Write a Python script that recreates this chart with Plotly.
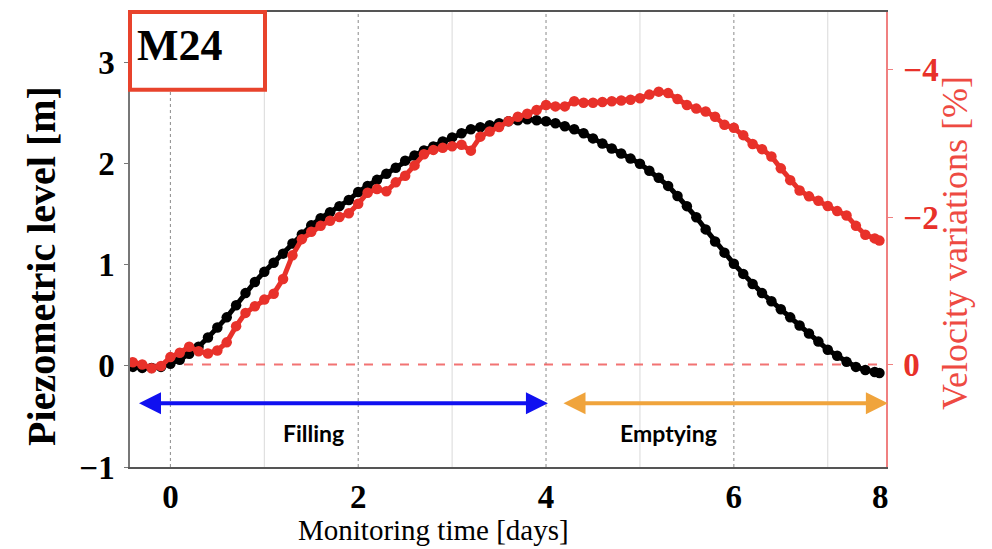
import plotly.graph_objects as go

# ---------------- data ----------------
days = [-0.4, -0.3, -0.2, -0.1, 0.0, 0.1, 0.2, 0.3, 0.4, 0.5,
        0.6, 0.7, 0.8, 0.9, 1.0, 1.1, 1.2, 1.3, 1.4, 1.5,
        1.6, 1.7, 1.8, 1.9, 2.0, 2.1, 2.2, 2.3, 2.4, 2.5,
        2.6, 2.7, 2.8, 2.9, 3.0, 3.1, 3.2, 3.3, 3.4, 3.5,
        3.6, 3.7, 3.8, 3.9, 4.0, 4.1, 4.2, 4.3, 4.4, 4.5,
        4.6, 4.7, 4.8, 4.9, 5.0, 5.1, 5.2, 5.3, 5.4, 5.5,
        5.6, 5.7, 5.8, 5.9, 6.0, 6.1, 6.2, 6.3, 6.4, 6.5,
        6.6, 6.7, 6.8, 6.9, 7.0, 7.1, 7.2, 7.3, 7.4, 7.5, 7.55]

piezometric_level = [-0.01, -0.02, -0.02, -0.01, 0.02, 0.06, 0.12, 0.19, 0.28, 0.38,
                     0.48, 0.60, 0.72, 0.83, 0.93, 1.02, 1.11, 1.21, 1.30, 1.39,
                     1.46, 1.52, 1.58, 1.64, 1.72, 1.78, 1.84, 1.90, 1.96, 2.03,
                     2.08, 2.13, 2.17, 2.22, 2.26, 2.30, 2.34, 2.36, 2.38, 2.40,
                     2.42, 2.43, 2.44, 2.43, 2.42, 2.40, 2.37, 2.34, 2.30, 2.25,
                     2.20, 2.15, 2.10, 2.05, 2.00, 1.93, 1.86, 1.78, 1.68, 1.58,
                     1.47, 1.35, 1.23, 1.12, 1.01, 0.91, 0.81, 0.72, 0.64, 0.56,
                     0.48, 0.40, 0.32, 0.24, 0.16, 0.10, 0.04, -0.01, -0.04, -0.06, -0.07]

velocity_variation = [-0.03, 0.00, 0.05, 0.02, -0.10, -0.16, -0.24, -0.18, -0.15, -0.19,
                      -0.30, -0.52, -0.70, -0.79, -0.88, -0.96, -1.16, -1.48, -1.70, -1.80,
                      -1.88, -1.95, -2.00, -2.05, -2.18, -2.33, -2.38, -2.35, -2.47, -2.56,
                      -2.70, -2.85, -2.91, -2.94, -2.96, -2.98, -2.90, -3.09, -3.16, -3.22,
                      -3.30, -3.36, -3.40, -3.45, -3.52, -3.50, -3.50, -3.57, -3.55, -3.55,
                      -3.56, -3.57, -3.58, -3.59, -3.61, -3.66, -3.70, -3.68, -3.60, -3.52,
                      -3.47, -3.43, -3.36, -3.25, -3.21, -3.11, -2.99, -2.92, -2.82, -2.66,
                      -2.50, -2.36, -2.28, -2.22, -2.15, -2.08, -2.02, -1.88, -1.76, -1.71, -1.68]

x_tick_vals = [0, 2, 4, 6, 7.56]
x_tick_text = ["0", "2", "4", "6", "8"]
major_grid_days = [0, 2, 4, 6]
minor_grid_days = [1, 3, 5, 7]
phase_labels = ["Filling", "Emptying"]
phase_spans = [(-0.35, 4.02), (4.17, 7.64)]
phase_label_days = [1.52, 5.30]
phase_colors = ["#1010f0", "#f0a43c"]
arrow_level = -0.37

# ---------------- figure ----------------
RED = "#e8312a"
SERIF = "Liberation Serif"
fig = go.Figure()

fig.add_trace(go.Scatter(
    x=days, y=piezometric_level, mode="lines+markers",
    line=dict(color="black", width=5),
    marker=dict(color="black", size=10.5),
    showlegend=False, hoverinfo="skip", yaxis="y"))

fig.add_trace(go.Scatter(
    x=days, y=velocity_variation, mode="lines+markers",
    line=dict(color=RED, width=5),
    marker=dict(color=RED, size=10.5),
    showlegend=False, hoverinfo="skip", yaxis="y2"))

shapes = []
for d in minor_grid_days:
    shapes.append(dict(type="line", xref="x", yref="paper", x0=d, x1=d, y0=0, y1=1,
                       line=dict(color="#d9d9d9", width=1), layer="below"))
for d in major_grid_days:
    shapes.append(dict(type="line", xref="x", yref="paper", x0=d, x1=d, y0=0, y1=1,
                       line=dict(color="#8a8a8a", width=1, dash="dot"), layer="below"))
# zero reference (dashed red)
shapes.append(dict(type="line", xref="paper", yref="y2", x0=0, x1=1, y0=0, y1=0,
                   line=dict(color="rgba(240,90,90,0.85)", width=2, dash="dash"), layer="below"))
# label box
shapes.append(dict(type="rect", xref="paper", yref="paper",
                   x0=0.0, x1=(265 - 130) / 756, y0=(467 - 88) / 457, y1=1.0,
                   fillcolor="white", line=dict(color="#e8432c", width=4), layer="above"))
fig.update_layout(shapes=shapes)

annotations = []
# phase arrows
for (a, b), col in zip(phase_spans, phase_colors):
    annotations.append(dict(x=b, y=arrow_level, ax=a, ay=arrow_level, xref="x", yref="y",
                            axref="x", ayref="y", text="", showarrow=True,
                            arrowhead=2, startarrowhead=2, arrowside="end+start",
                            arrowsize=1.1, startarrowsize=1.1, arrowwidth=4, arrowcolor=col))
for xd, lab in zip(phase_label_days, phase_labels):
    annotations.append(dict(x=xd, y=-0.66, xref="x", yref="y", text=lab, showarrow=False,
                            font=dict(family="Lato", size=23, color="black", weight="bold")))
annotations += [
    dict(x=0.006, y=0.985, xref="paper", yref="paper", xanchor="left", yanchor="top",
         text="M24", showarrow=False,
         font=dict(family=SERIF, size=44, color="black", weight="bold")),
    dict(x=(42 - 130) / 756, y=(467 - 265) / 457, xref="paper", yref="paper",
         text="Piezometric level [m]", textangle=-90, showarrow=False,
         xanchor="center", yanchor="middle",
         font=dict(family=SERIF, size=40, color="black", weight="bold")),
    dict(x=(955 - 130) / 756, y=(467 - 242) / 457, xref="paper", yref="paper",
         text="Velocity variations [%]", textangle=-90, showarrow=False,
         xanchor="center", yanchor="middle",
         font=dict(family=SERIF, size=36, color="#ee4a42")),
    dict(x=(433 - 130) / 756, y=(467 - 530) / 457, xref="paper", yref="paper",
         text="Monitoring time [days]", showarrow=False,
         xanchor="center", yanchor="middle",
         font=dict(family=SERIF, size=29, color="black")),
]
fig.update_layout(annotations=annotations)

fig.update_layout(
    width=992, height=549,
    margin=dict(l=130, r=106, t=10, b=82),
    paper_bgcolor="white", plot_bgcolor="white",
    xaxis=dict(range=[-0.43, 7.62], tickvals=x_tick_vals, ticktext=x_tick_text,
               showgrid=False, zeroline=False, showline=True, linecolor="#555555",
               linewidth=1.5, mirror=True, ticks="", ticklabelstandoff=0,
               tickfont=dict(family=SERIF, size=33, color="black", weight="bold")),
    yaxis=dict(range=[-1, 3.5], tickvals=[-1, 0, 1, 2, 3], showgrid=False, zeroline=False,
               showline=True, linecolor="#777777", linewidth=1.5, ticks="outside",
               ticklen=4, tickcolor="#777777", ticklabelstandoff=3,
               tickfont=dict(family=SERIF, size=33, color="black", weight="bold")),
    yaxis2=dict(range=[1.39, -4.78], tickvals=[-4, -2, 0], overlaying="y", side="right",
                showgrid=False, zeroline=False, showline=True, linecolor="#f08080",
                linewidth=1.5, ticks="outside", ticklen=5, tickcolor="#f08080",
                ticklabelstandoff=4,
                tickfont=dict(family=SERIF, size=33, color=RED, weight="bold")),
)

fig.write_html("out.html")
